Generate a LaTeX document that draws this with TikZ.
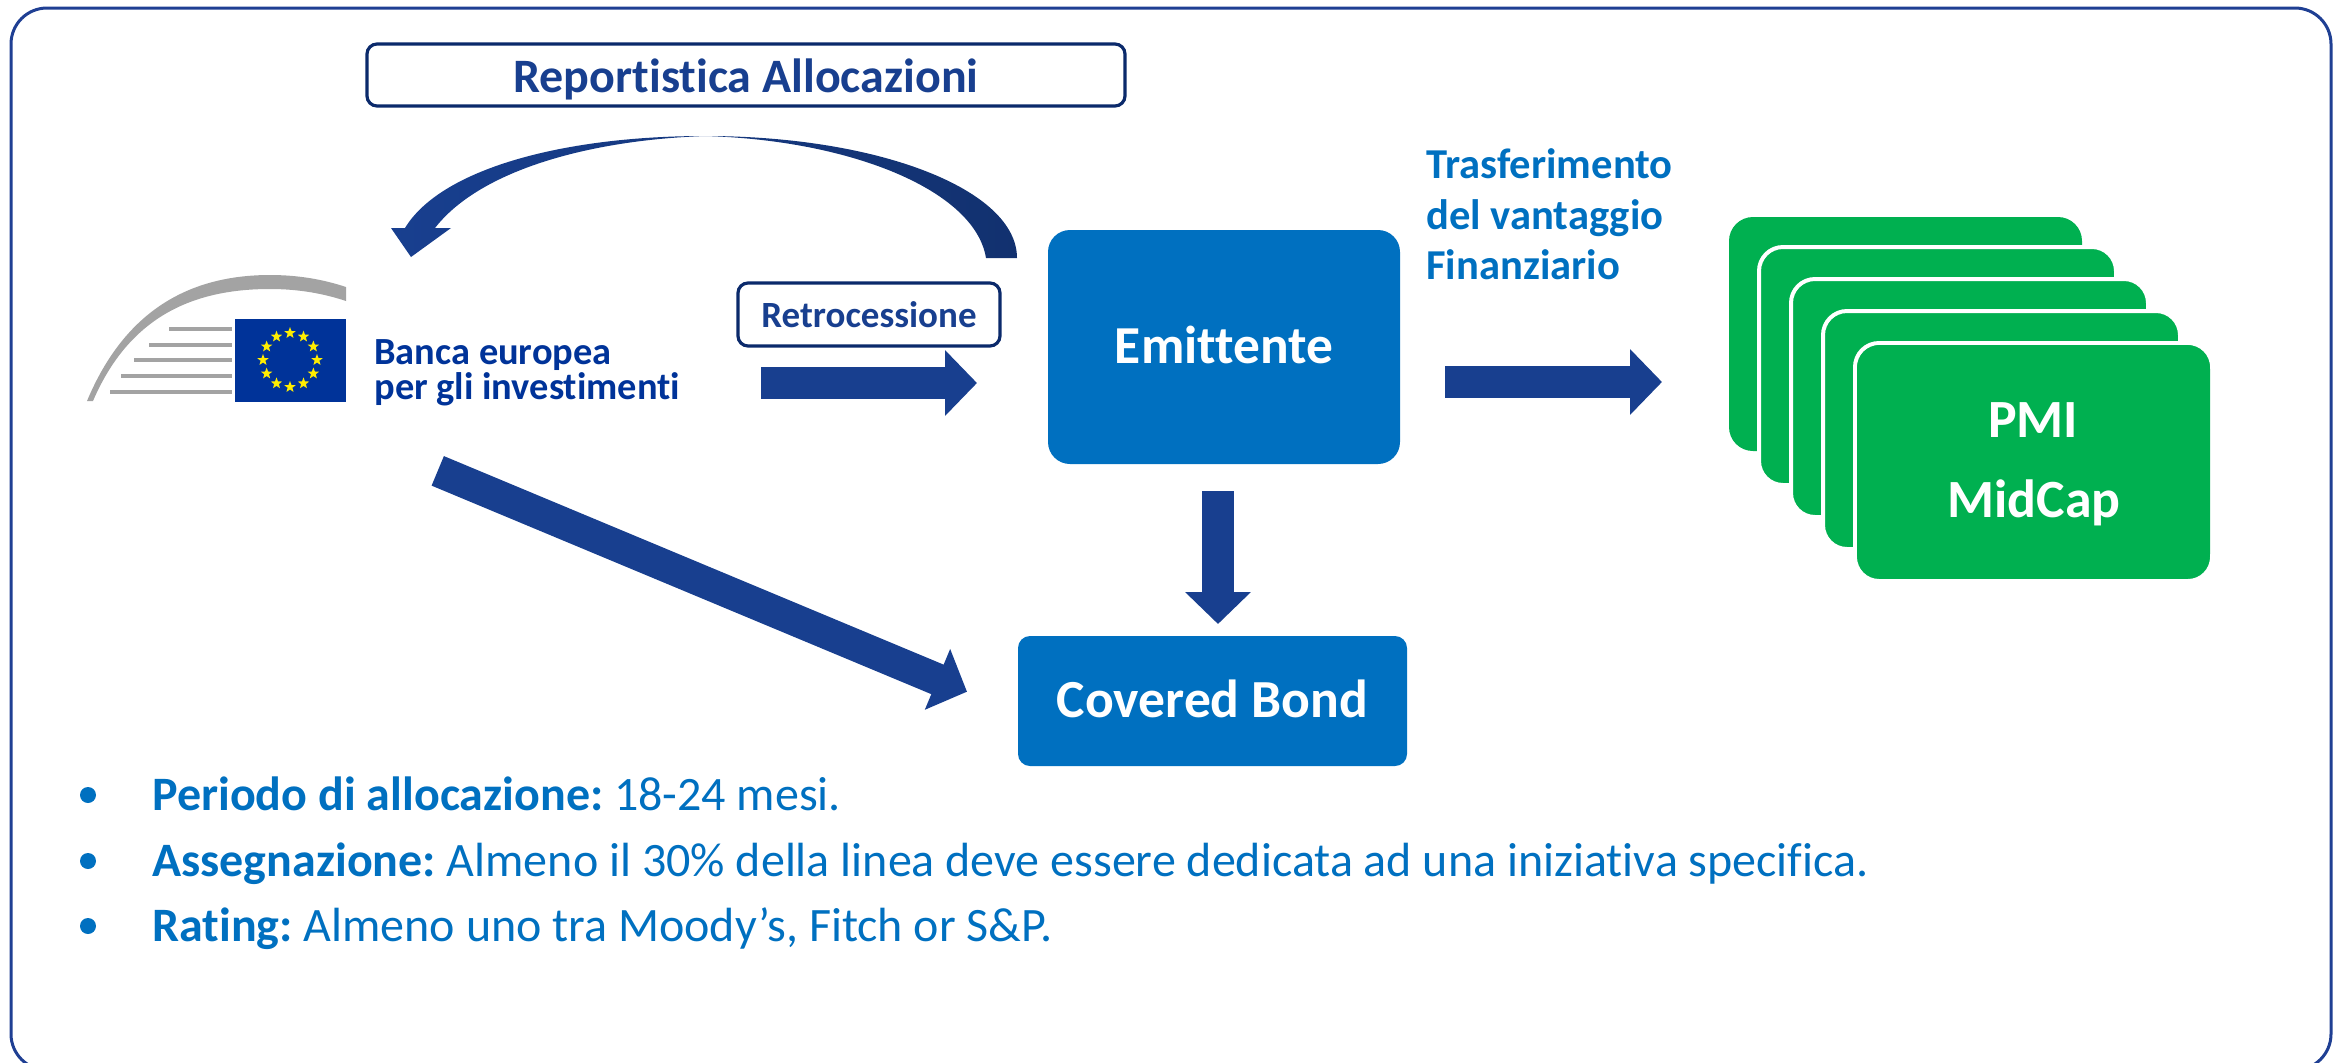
\documentclass[tikz,border=0pt]{standalone}
\usepackage{fontspec}
\setmainfont{Carlito}[Ligatures=NoCommon]
\usetikzlibrary{arrows.meta,shapes.geometric}
\definecolor{frameblue}{HTML}{1F3F93}
\definecolor{navy}{HTML}{0B2A6B}
\definecolor{arrowblue}{HTML}{183F8F}
\definecolor{arrowdark}{HTML}{12316F}
\definecolor{boxblue}{HTML}{0070C0}
\definecolor{pmigreen}{HTML}{00B050}
\definecolor{eugold}{HTML}{FFED00}
\definecolor{eublue}{HTML}{003399}
\definecolor{logogray}{HTML}{A3A3A3}
\newcommand{\fs}[1]{\fontsize{#1}{#1}\selectfont}
\tikzset{
  x=0.5pt,y=-0.5pt,
  labelbox/.style={draw=navy,line width=1.6pt,fill=white,rounded corners=5pt,inner sep=0pt,text=arrowblue},
  bluebox/.style={fill=boxblue,text=white,inner sep=0pt,text height=16.5pt,text depth=0pt},
  flow/.style={draw=arrowblue,line width=16pt,-{Triangle[length=16pt,width=32pt]}},
  bodytext/.style={text=boxblue,anchor=base west,inner sep=0pt,font=\fs{24}\frenchspacing},
  bulletdot/.style={circle,fill=boxblue,minimum size=8pt,inner sep=0pt},
  cardbox/.style={draw=white,line width=2pt,fill=pmigreen,rounded corners=12pt},
  logoline/.style={draw=logogray,line width=1.8pt},
  logotext/.style={text=eublue,anchor=base west,inner sep=0pt,font=\fs{19.2}\bfseries},
  transfer/.style={anchor=base west,inner sep=0pt,text=boxblue,font=\fs{21.3}\bfseries},
  cardtext/.style={text=white,inner sep=0pt,anchor=base,font=\fs{26.9}\bfseries},
}
\begin{document}
\begin{tikzpicture}
\useasboundingbox (0,0) rectangle (2341,1062);
\clip (0,0) rectangle (2341,1062);
% frame
\draw[frameblue,line width=1.5pt,rounded corners=18pt] (11,8) rectangle (2331,1070);
% logo
\fill[logogray] (87,401) .. controls (125,310) and (190,275) .. (270,275) .. controls (300,275) and (325,280) .. (346,287) -- (346,301) .. controls (325,294) and (300,289) .. (270,289) .. controls (195,289) and (130,315) .. (93,401) -- cycle;
\foreach \xa/\ya in {169/329,149/345,134/360,121/376,110/392}
  \draw[logoline] (\xa,\ya) -- (232,\ya);
\fill[eublue] (235,319) rectangle (346,402);
\foreach \a in {0,30,...,330}
  \node[star,star points=5,star point ratio=2.4,fill=eugold,minimum size=6pt,inner sep=0pt] at ({290+27*cos(\a)},{360+27*sin(\a)}) {};
\node[logotext] (eiba) at (374,364) {Banca europea};
\node[logotext] (eibb) at (374,399) {per gli investimenti};
% top label
\node[labelbox,minimum width=379pt,minimum height=31pt,font=\fs{24}\bfseries,text height=17pt,text depth=0pt] (report) at (746,75) {Reportistica Allocazioni};
% curved arrow
\shade[left color=arrowblue,right color=arrowdark]
  (1017,258) .. controls (1017,190) and (880,136) .. (705,136)
  .. controls (560,136) and (440,170) .. (405,228)
  -- (391,228) -- (411,257) -- (451,228) -- (435,228)
  .. controls (480,170) and (590,140) .. (705,136)
  .. controls (850,140) and (975,190) .. (986,258) -- cycle;
% retrocessione
\node[labelbox,minimum width=131pt,minimum height=31.5pt,font=\fs{18.5}\bfseries,text height=12.5pt,text depth=0pt] (retro) at (869,314.5) {Retrocessione};
\coordinate (retroA) at (761,383);
\coordinate (retroB) at (977,383);
\draw[flow] (retroA) -- (retroB);
% emittente
\node[bluebox,minimum width=176pt,minimum height=117pt,rounded corners=11pt,font=\fs{26.7}\bfseries] (emit) at (1224,347) {Emittente};
% covered
\node[bluebox,minimum width=194.5pt,minimum height=65pt,rounded corners=6pt,font=\fs{26.8}\bfseries] (bond) at (1212.5,701) {Covered Bond};
% arrows
\coordinate (downA) at (1218,491);
\coordinate (downB) at (1218,624);
\draw[flow] (downA) -- (downB);
\coordinate (rightA) at (1445,382);
\coordinate (rightB) at (1662,382);
\draw[flow] (rightA) -- (rightB);
\coordinate (diagA) at (437.75,470.85);
\coordinate (diagB) at (967,691.7);
\draw[flow] (diagA) -- (diagB);
% transfer label
\node[transfer] (t1) at (1426,178) {Trasferimento};
\node[transfer] (t2) at (1426,229) {del vantaggio};
\node[transfer] (t3) at (1426,279.5) {Finanziario};
% cards
\fill[pmigreen,rounded corners=12pt] (1729,217) rectangle (2082,451);
\draw[cardbox] (1759,247) rectangle (2116,485);
\draw[cardbox] (1791,279) rectangle (2148,517);
\draw[cardbox] (1823,311) rectangle (2180,549);
\draw[cardbox] (1855,343) rectangle (2212,581);
\fill[pmigreen,rounded corners=12pt] (1857,345) rectangle (2210,578);
\node[cardtext] (pmi) at (2033,437.5) {PMI};
\node[cardtext] (midcap) at (2034,517.5) {MidCap};
% bullets
\node[bulletdot] (b1) at (88,795) {};
\node[bulletdot] (b2) at (88,861) {};
\node[bulletdot] (b3) at (88,926) {};
\node[bodytext] (l1) at (152,810.5) {\textbf{Periodo di allocazione:} 18-24 mesi.};
\node[bodytext] (l2) at (152,876.5) {\textbf{Assegnazione:} Almeno il 30\% della linea deve essere dedicata ad una iniziativa specifica.};
\node[bodytext] (l3) at (152,941.5) {\textbf{Rating:} Almeno uno tra Moody’s, Fitch or S\&P.};
\end{tikzpicture}
\end{document}
